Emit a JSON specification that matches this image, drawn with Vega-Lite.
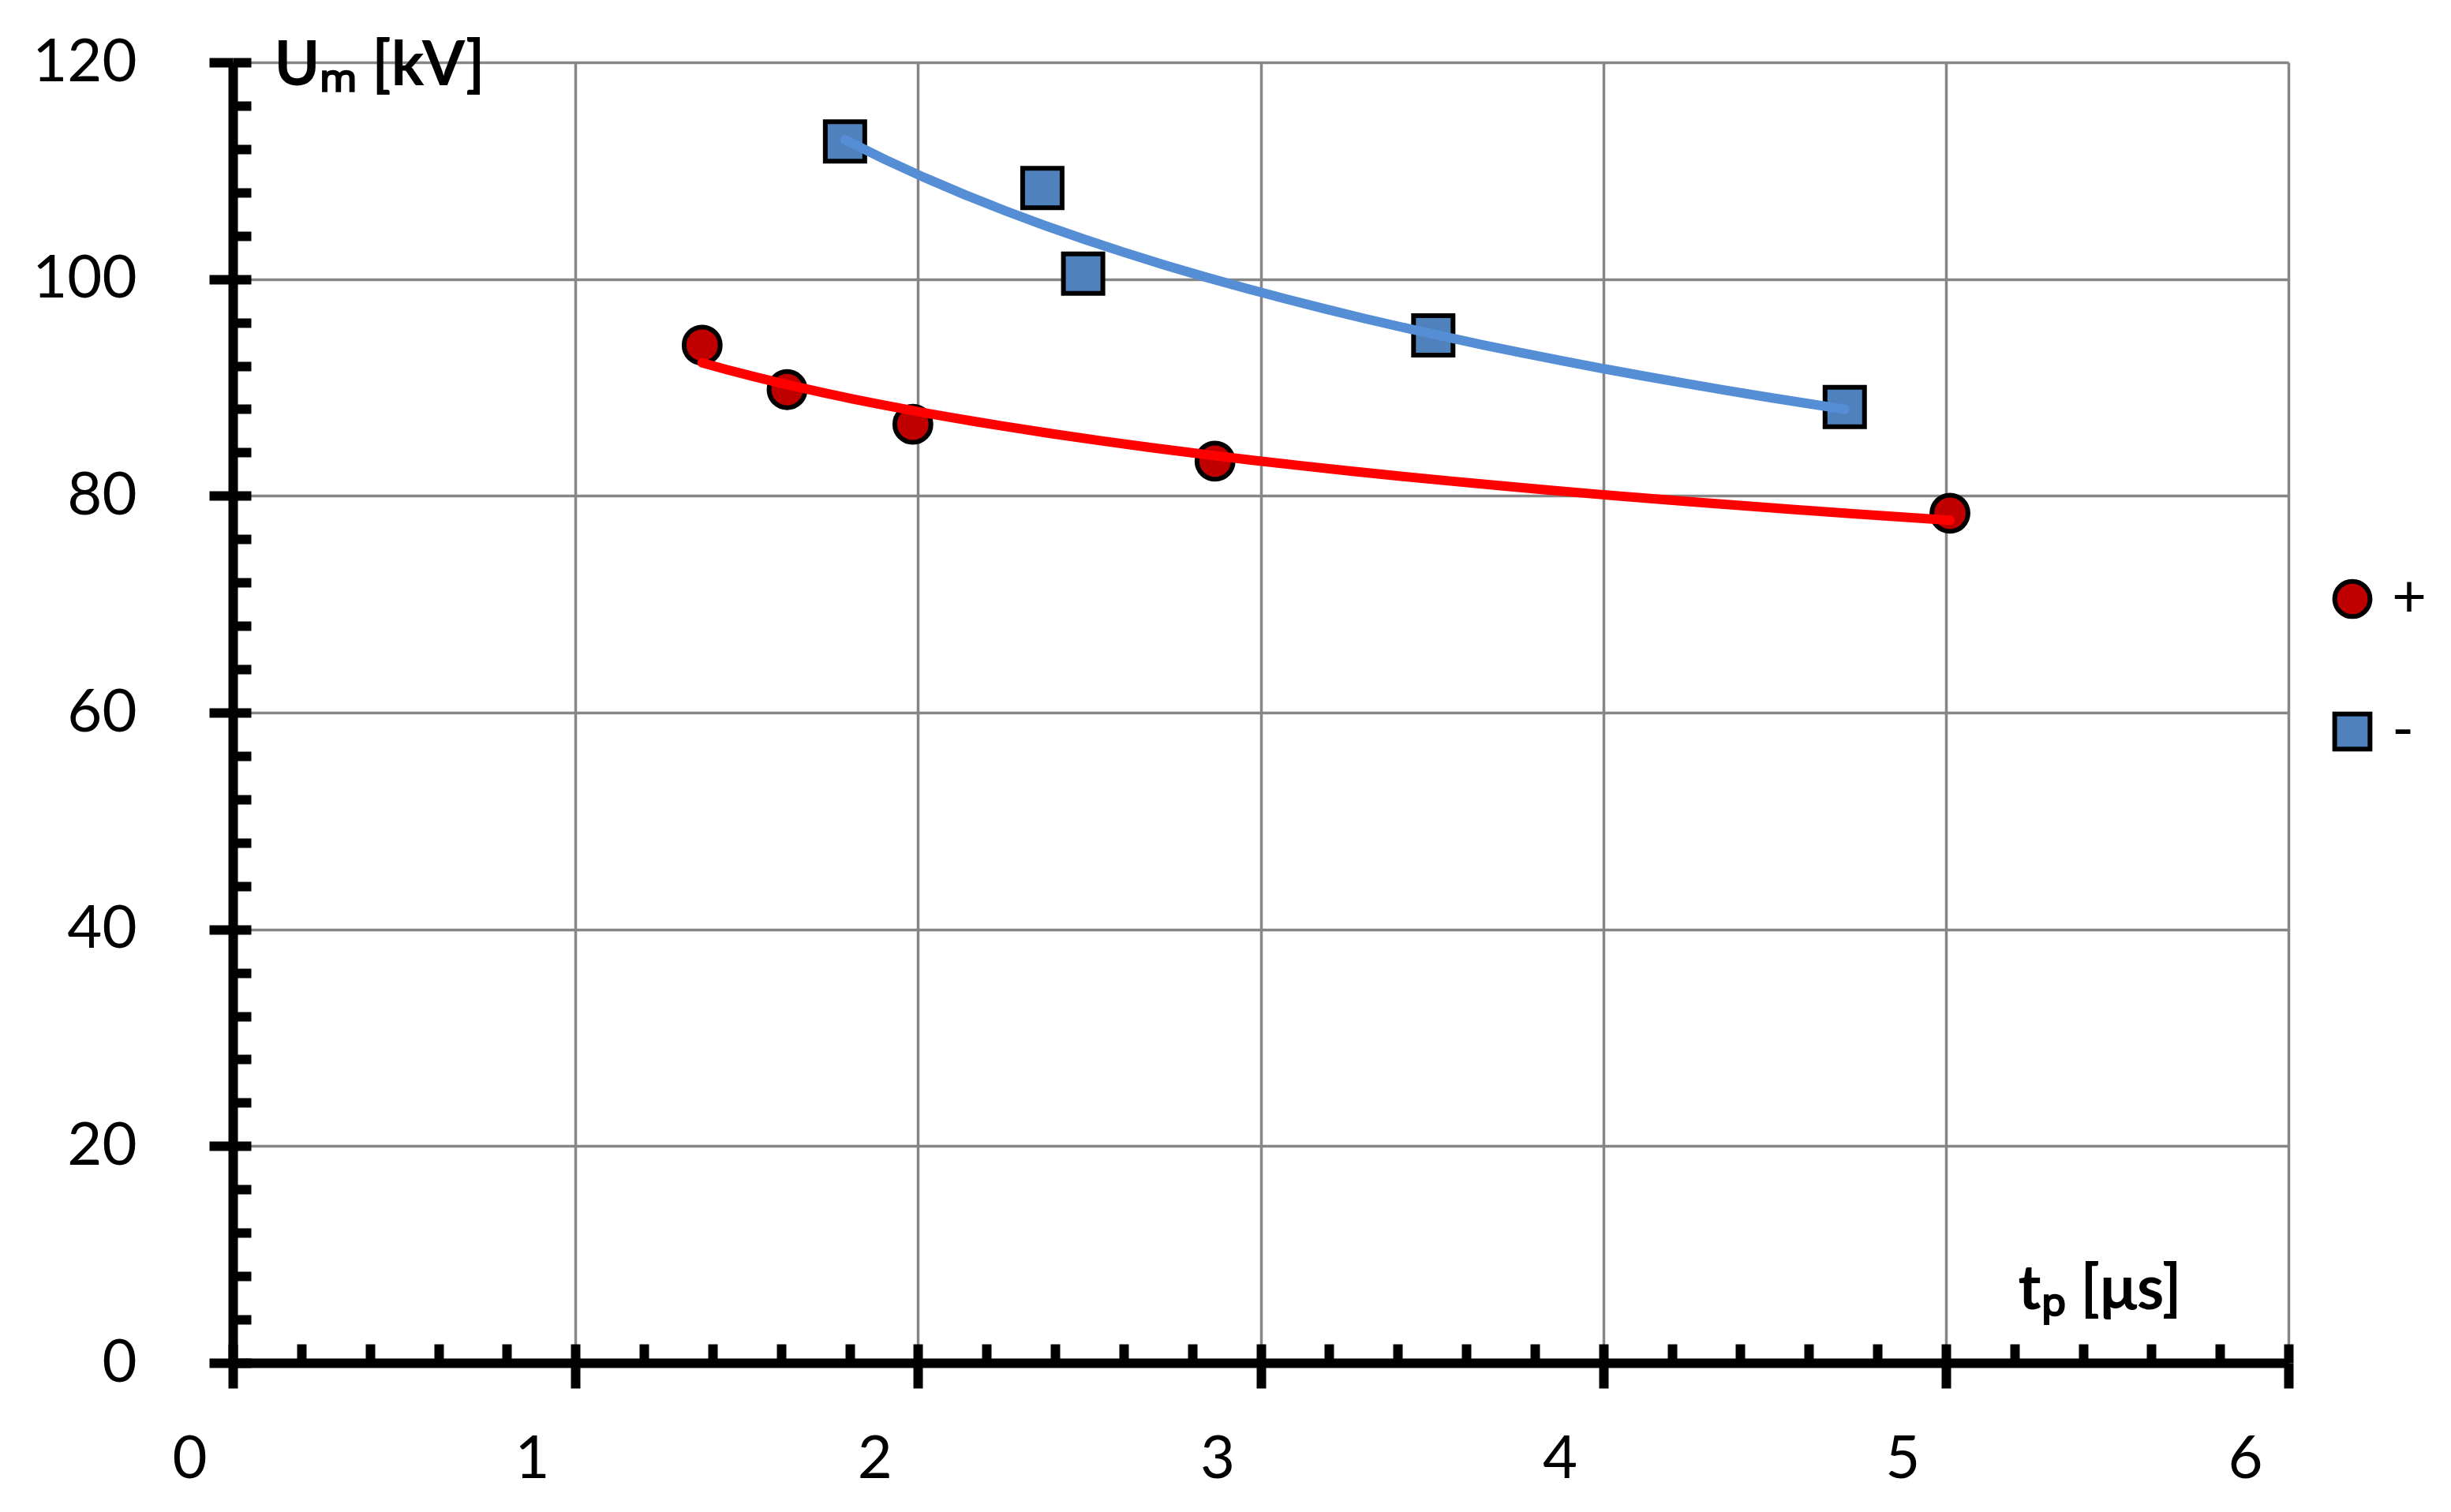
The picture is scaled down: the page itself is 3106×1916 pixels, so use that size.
{
  "$schema": "https://vega.github.io/schema/vega-lite/v6.json",
  "width": 2605,
  "height": 1648,
  "autosize": {"type": "none"},
  "padding": {"left": 295, "top": 79, "right": 206, "bottom": 189},
  "background": "white",
  "config": {
    "view": {"stroke": null},
    "font": "Lato",
    "legend": {"symbolStrokeColor": "black", "symbolStrokeWidth": 6}
  },
  "data": {
    "values": [
      {"sign": "+", "t": 1.37, "U": 93.9},
      {"sign": "+", "t": 1.618, "U": 89.8},
      {"sign": "+", "t": 1.985, "U": 86.6},
      {"sign": "+", "t": 2.867, "U": 83.2},
      {"sign": "+", "t": 5.012, "U": 78.4},
      {"sign": "-", "t": 1.787, "U": 112.7},
      {"sign": "-", "t": 2.363, "U": 108.4},
      {"sign": "-", "t": 2.482, "U": 100.5},
      {"sign": "-", "t": 3.504, "U": 94.8},
      {"sign": "-", "t": 4.705, "U": 88.2}
    ]
  },
  "layer": [
    {
      "transform": [{"filter": "datum.sign === '+'"}],
      "mark": {"type": "point", "filled": true, "strokeWidth": 6, "opacity": 1, "size": 2100},
      "encoding": {
        "x": {
          "field": "t", "type": "quantitative",
          "scale": {"domain": [0, 6], "nice": false, "zero": true},
          "axis": {
            "orient": "bottom",
            "values": [0, 1, 2, 3, 4, 5, 6],
            "title": "tₚ [μs]",
            "domain": true, "domainColor": "black", "domainWidth": 12,
            "ticks": true, "tickColor": "black", "tickWidth": 12, "tickSize": 32,
            "labelFontSize": 76, "labelColor": "black", "labelPadding": 53, "labelOffset": -55,
            "labelFlush": false, "labelOverlap": false,
            "grid": true, "gridColor": "#868686", "gridWidth": 3.5,
            "titleFontSize": 78, "titleFontWeight": "bold", "titleColor": "black",
            "titleX": 2262, "titleY": -69, "titleAlign": "left", "titleBaseline": "alphabetic"
          }
        },
        "y": {
          "field": "U", "type": "quantitative",
          "scale": {"domain": [0, 120], "nice": false, "zero": true},
          "axis": {
            "orient": "left",
            "values": [0, 20, 40, 60, 80, 100, 120],
            "title": "Uₘ [kV]",
            "domain": true, "domainColor": "black", "domainWidth": 12,
            "ticks": true, "tickColor": "black", "tickWidth": 12, "tickSize": 30,
            "labelFontSize": 76, "labelColor": "black", "labelPadding": 92,
            "labelFlush": false, "labelOverlap": false,
            "grid": true, "gridColor": "#868686", "gridWidth": 3.5,
            "titleFontSize": 78, "titleFontWeight": "bold", "titleColor": "black",
            "titleAngle": 0, "titleX": 52, "titleY": 28, "titleAlign": "left", "titleBaseline": "alphabetic"
          }
        },
        "fill": {
          "field": "sign", "type": "nominal",
          "scale": {"domain": ["+", "-"], "range": ["#C00000", "#4F81BD"]},
          "legend": {
            "title": null, "orient": "none", "legendX": 2648, "legendY": 642,
            "symbolSize": 2000, "symbolStrokeWidth": 6,
            "labelFontSize": 76, "labelColor": "black", "rowPadding": 92, "labelOffset": 12
          }
        },
        "shape": {
          "field": "sign", "type": "nominal",
          "scale": {"domain": ["+", "-"], "range": ["circle", "square"]},
          "legend": {
            "title": null, "orient": "none", "legendX": 2648, "legendY": 642,
            "symbolSize": 2000, "symbolStrokeWidth": 6,
            "labelFontSize": 76, "labelColor": "black", "rowPadding": 92, "labelOffset": 12
          }
        },
        "stroke": {
          "field": "sign", "type": "nominal",
          "scale": {"domain": ["+", "-"], "range": ["black", "black"]},
          "legend": {
            "title": null, "orient": "none", "legendX": 2648, "legendY": 642,
            "symbolSize": 2000, "symbolStrokeWidth": 6,
            "labelFontSize": 76, "labelColor": "black", "rowPadding": 92, "labelOffset": 12
          }
        }
      }
    },
    {
      "transform": [{"filter": "datum.sign === '-'"}],
      "mark": {"type": "point", "filled": true, "strokeWidth": 6, "opacity": 1, "size": 2500},
      "encoding": {
        "x": {"field": "t", "type": "quantitative", "axis": null},
        "y": {"field": "U", "type": "quantitative", "axis": null},
        "fill": {"field": "sign", "type": "nominal"},
        "shape": {"field": "sign", "type": "nominal"},
        "stroke": {"field": "sign", "type": "nominal"}
      }
    },
    {
      "transform": [
        {"filter": "datum.sign === '+'"},
        {"regression": "U", "on": "t", "method": "pow"}
      ],
      "mark": {"type": "line", "strokeWidth": 12, "strokeCap": "round", "color": "#FF0000"},
      "encoding": {
        "x": {
          "field": "t", "type": "quantitative",
          "axis": {
            "orient": "bottom",
            "values": [0, 0.2, 0.4, 0.6, 0.8, 1, 1.2, 1.4, 1.6, 1.8, 2, 2.2, 2.4, 2.6, 2.8, 3, 3.2, 3.4, 3.6, 3.8, 4, 4.2, 4.4, 4.6, 4.8, 5, 5.2, 5.4, 5.6, 5.8, 6],
            "title": null, "labels": false, "domain": false, "grid": false,
            "ticks": true, "tickColor": "black", "tickWidth": 12, "tickSize": -24, "zindex": 1
          }
        },
        "y": {
          "field": "U", "type": "quantitative",
          "axis": {
            "orient": "left",
            "values": [0, 4, 8, 12, 16, 20, 24, 28, 32, 36, 40, 44, 48, 52, 56, 60, 64, 68, 72, 76, 80, 84, 88, 92, 96, 100, 104, 108, 112, 116, 120],
            "title": null, "labels": false, "domain": false, "grid": false,
            "ticks": true, "tickColor": "black", "tickWidth": 12, "tickSize": -23, "zindex": 1
          }
        }
      }
    },
    {
      "transform": [
        {"filter": "datum.sign === '-'"},
        {"regression": "U", "on": "t", "method": "pow"}
      ],
      "mark": {"type": "line", "strokeWidth": 12, "strokeCap": "round", "color": "#558ED5"},
      "encoding": {
        "x": {"field": "t", "type": "quantitative", "axis": null},
        "y": {"field": "U", "type": "quantitative", "axis": null}
      }
    }
  ],
  "resolve": {"axis": {"x": "independent", "y": "independent"}}
}
